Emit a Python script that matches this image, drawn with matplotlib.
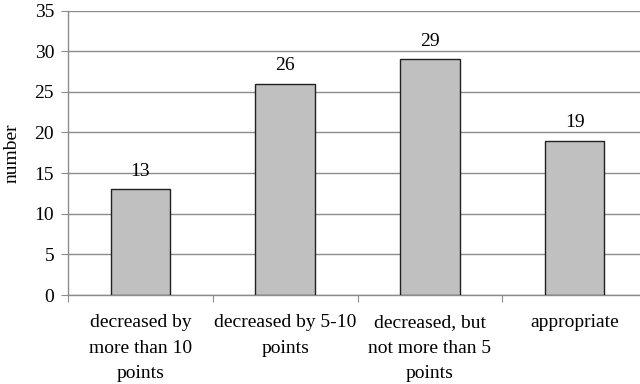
import matplotlib
matplotlib.use("Agg")
import matplotlib.pyplot as plt
import numpy as np

categories = ["decreased by\nmore than 10\npoints",
              "decreased by 5-10\npoints",
              "decreased, but\nnot more than 5\npoints",
              "appropriate"]
counts = [13, 26, 29, 19]
y_ticks = [0, 5, 10, 15, 20, 25, 30, 35]

plt.rcParams['font.family'] = ['Liberation Serif', 'DejaVu Serif']
fs = 14

fig = plt.figure(figsize=(6.4, 3.84), dpi=100)
ax = fig.add_axes([68/640, 1 - 295/384, 579/640, 284.5/384])

x = np.arange(len(categories))
ax.bar(x, counts, width=0.41, color='#c0c0c0', edgecolor='#202020',
       linewidth=1.0, zorder=3)
for xi, v in zip(x, counts):
    ax.annotate(f"{v}", (xi, v), xytext=(0, 7), textcoords='offset points',
                ha='center', va='bottom', fontsize=fs)

ax.set_xlim(-0.5, len(categories) - 0.5)
ax.set_ylim(0, 35)
ax.set_yticks(y_ticks)
ax.set_yticklabels([str(t) for t in y_ticks], fontsize=fs)
ax.yaxis.grid(True, color='#8c8c8c', linewidth=1.0, zorder=0)
ax.set_axisbelow(True)

# category boundary ticks, labels centered under bars
ax.set_xticks(np.arange(len(categories) + 1) - 0.5)
ax.set_xticklabels([])
ax.set_xticks(x, minor=True)
ax.set_xticklabels(categories, minor=True, fontsize=fs, linespacing=1.62)
ax.tick_params(axis='x', which='minor', length=0, pad=14)
ax.tick_params(axis='x', which='major', length=5, color='#8c8c8c', direction='out')
ax.tick_params(axis='y', length=5, color='#8c8c8c', direction='out', pad=5)

for side in ['top', 'right']:
    ax.spines[side].set_visible(False)
for side in ['left', 'bottom']:
    ax.spines[side].set_color('#8c8c8c')
    ax.spines[side].set_linewidth(1.0)

ax.set_ylabel("number", fontsize=fs, labelpad=10)

fig.savefig("out.png", dpi=100)
